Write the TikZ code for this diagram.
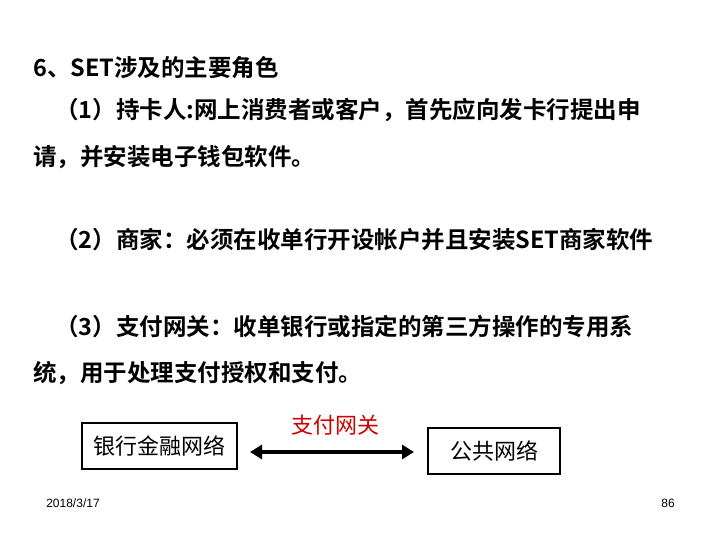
\documentclass[tikz,border=0pt]{standalone}
\usepackage{fontspec}
\usetikzlibrary{arrows.meta}
\setmainfont{Liberation Sans}
\newfontfamily\cjk{Noto Sans CJK SC}[BoldFont={Noto Sans CJK SC Bold}]
\begin{document}
\begin{tikzpicture}[x=1pt,y=-1pt,
  line/.style={anchor=west,inner sep=0pt,font=\cjk\bfseries\fontsize{23.5}{23.5}\selectfont},
  box/.style={draw,line width=2.8pt,minimum height=46pt,font=\cjk\fontsize{22}{22}\selectfont},
  small/.style={font=\fontsize{12}{12}\selectfont,inner sep=0pt}]
\useasboundingbox[fill=white] (0,0) rectangle (720,540);
\node[line] (t0) at (33,68) {6、SET涉及的主要角色};
\node[line] (t1) at (55,110) {（1）持卡人:网上消费者或客户，首先应向发卡行提出申};
\node[line] (t2) at (33,157) {请，并安装电子钱包软件。};
\node[line] (t3) at (55,240) {（2）商家：必须在收单行开设帐户并且安装SET商家软件};
\node[line] (t4) at (55,327) {（3）支付网关：收单银行或指定的第三方操作的专用系};
\node[line] (t5) at (33,373) {统，用于处理支付授权和支付。};
\node[box,minimum width=155pt] (b1) at (159.5,446) {银行金融网络};
\node[box,minimum width=132pt] (b2) at (494,451) {公共网络};
\node[font=\cjk\fontsize{22}{22}\selectfont,text=red!80!black] (g) at (335,425) {支付网关};
\coordinate (a1) at (250,452);
\coordinate (a2) at (414,452);
\draw[line width=4pt,{Triangle[length=12pt,width=14pt]}-{Triangle[length=12pt,width=14pt]}] (a1) -- (a2);
\node[small] (d) at (73,503) {2018/3/17};
\node[small] (p) at (668,503) {86};
\end{tikzpicture}
\end{document}
